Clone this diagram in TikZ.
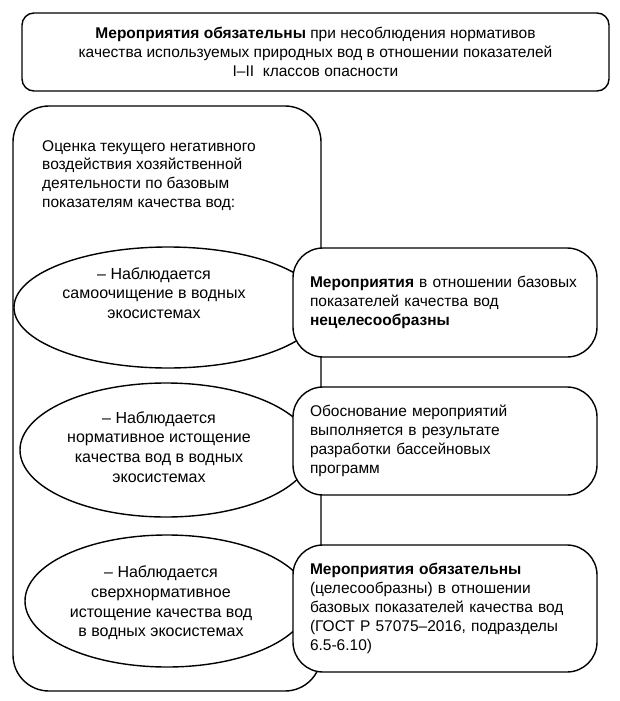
\documentclass[tikz,border=0pt]{standalone}
\usepackage{fontspec}
\setmainfont{Liberation Sans}
\usepackage{tikz}
\usetikzlibrary{shapes.geometric, positioning}
\newcommand{\bodyfont}{\fontsize{15.5}{18.8}\selectfont}
\newcommand{\ovalfont}{\fontsize{16}{19.6}\selectfont}

\begin{document}
\begin{tikzpicture}[x=1pt, y=-1pt,
    outline/.style={draw=black, line width=1.4pt},
    topbox/.style={outline, rectangle, rounded corners=12pt, inner sep=0pt,
                   minimum width=587pt, minimum height=78pt, align=center, font=\bodyfont},
    framebox/.style={outline, rectangle, rounded corners=36pt, inner sep=0pt,
                     minimum width=308pt, minimum height=585pt},
    oval/.style={outline, ellipse, inner sep=0pt, fill=white},
    ovaltext/.style={align=center, font=\ovalfont, inner sep=0pt},
    sidebox/.style={outline, rectangle, rounded corners=30pt, fill=white,
                    minimum width=304pt, inner xsep=17pt, inner ysep=0pt,
                    text width=270pt, align=left, font=\bodyfont}]
    \useasboundingbox (0,0) rectangle (619,701);

    % Heading
    \node[topbox] (head) at (315.5,52) {\textbf{Мероприятия обязательны} при несоблюдения нормативов\\
      качества используемых природных вод в отношении показателей\\
      I–II\ \ классов опасности};

    % Left frame with the assessment
    \node[framebox] (frame) at (167,398.5) {};
    \node[anchor=north west, align=left, font=\bodyfont, inner sep=0pt] (intro) at (42,140)
      {Оценка текущего негативного\\ воздействия хозяйственной\\ деятельности по базовым\\ показателям качества вод:};

    % Ovals
    \node[oval, minimum width=308pt, minimum height=121pt] (ovalA) at (168,307.5) {};
    \node[ovaltext] (textA) at (154,293) {– Наблюдается\\ самоочищение в водных\\ экосистемах};

    \node[oval, minimum width=292pt, minimum height=134pt] (ovalB) at (166,450) {};
    \node[ovaltext] (textB) at (159,447) {– Наблюдается\\ нормативное истощение\\ качества вод в водных\\ экосистемах};

    \node[oval, minimum width=284pt, minimum height=132pt] (ovalC) at (167,601) {};
    \node[ovaltext] (textC) at (161,603) {– Наблюдается\\ сверхнормативное\\ истощение качества вод\\ в водных экосистемах};

    % Measures
    \node[sidebox, minimum height=109pt] (measA) at (445,302.5)
      {\textbf{Мероприятия} в отношении базовых\\ показателей качества вод\\ \textbf{нецелесообразны}};
    \node[sidebox, minimum height=108pt] (measB) at (445,441)
      {Обоснование мероприятий\\ выполняется в результате\\ разработки бассейновых\\ программ};
    \node[sidebox, minimum height=127pt] (measC) at (445,608.5)
      {\textbf{Мероприятия обязательны}\\ (целесообразны) в отношении\\ базовых показателей качества вод\\ (ГОСТ Р 57075–2016, подразделы\\ 6.5-6.10)};
\end{tikzpicture}
\end{document}
